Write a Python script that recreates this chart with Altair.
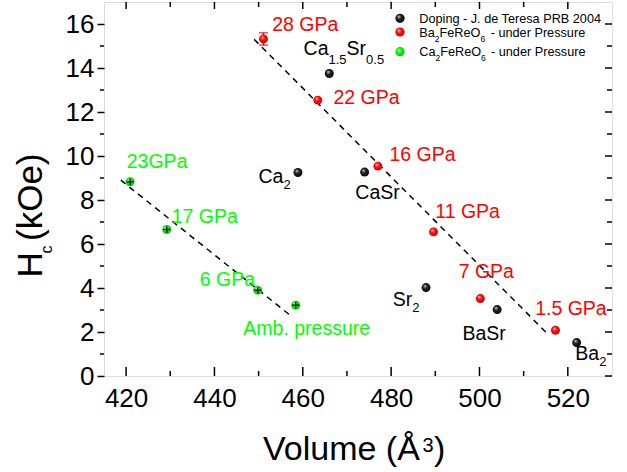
import altair as alt
import pandas as pd

FONT = "Liberation Sans, Arial, sans-serif"
RED = "#ff0000"
GREEN = "#00ff00"

# Doping series (J. de Teresa, PRB 2004)
doping_names = ["Ca2", "Ca1.5Sr0.5", "CaSr", "Sr2", "BaSr", "Ba2"]
doping_volume = [458.9, 466.0, 474.0, 487.9, 504.0, 522.0]
doping_hc = [9.25, 13.75, 9.27, 4.02, 3.02, 1.52]

# Ba2FeReO6 under pressure
ba_pressure = ["28 GPa", "22 GPa", "16 GPa", "11 GPa", "7 GPa", "1.5 GPa"]
ba_volume = [451.1, 463.4, 477.0, 489.6, 500.2, 517.2]
ba_hc = [15.32, 12.54, 9.54, 6.55, 3.52, 2.08]
ba_hc_err = [0.28, 0.0, 0.0, 0.0, 0.0, 0.0]

# Ca2FeReO6 under pressure
ca_pressure = ["23GPa", "17 GPa", "6 GPa", "Amb. pressure"]
ca_volume = [420.9, 429.2, 449.8, 458.4]
ca_hc = [8.83, 6.66, 3.90, 3.22]
ca_volume_err = [0.8, 0.8, 0.8, 0.8]
ca_hc_err = [0.15, 0.15, 0.15, 0.15]

# dashed linear trends
ba_fit_volume = [449.0, 515.0]
ba_fit_hc = [15.3, 2.0]
ca_fit_volume = [418.8, 457.4]
ca_fit_hc = [8.9, 2.72]

# axis ticks
x_major = [420, 440, 460, 480, 500, 520]
x_minor = [430, 450, 470, 490, 510]
y_major = [0, 2, 4, 6, 8, 10, 12, 14, 16]
y_minor = [1, 3, 5, 7, 9, 11, 13, 15]

W, H = 508, 374

doping = pd.DataFrame({"name": doping_names, "volume": doping_volume, "hc": doping_hc})
ba = pd.DataFrame({"label": ba_pressure, "volume": ba_volume, "hc": ba_hc, "err": ba_hc_err})
ba["lo"] = ba["hc"] - ba["err"]
ba["hi"] = ba["hc"] + ba["err"]
ca = pd.DataFrame({"label": ca_pressure, "volume": ca_volume, "hc": ca_hc,
                   "verr": ca_volume_err, "herr": ca_hc_err})
ca["vlo"] = ca["volume"] - ca["verr"]
ca["vhi"] = ca["volume"] + ca["verr"]
ca["hlo"] = ca["hc"] - ca["herr"]
ca["hhi"] = ca["hc"] + ca["herr"]
ba_fit = pd.DataFrame({"volume": ba_fit_volume, "hc": ba_fit_hc})
ca_fit = pd.DataFrame({"volume": ca_fit_volume, "hc": ca_fit_hc})

XS = alt.Scale(domain=[415, 530], nice=False, zero=False)
YS = alt.Scale(domain=[0, 17], nice=False, zero=False)
x_axis = alt.Axis(values=x_major, labelFontSize=26, labelFont=FONT, labelColor="black",
                  ticks=False, tickSize=0, domain=False, grid=False, title=None,
                  labelPadding=9, labelFlush=False, labelOverlap=False)
y_axis = alt.Axis(values=y_major, labelFontSize=26, labelFont=FONT, labelColor="black",
                  ticks=True, tickSize=7, tickWidth=1.5, tickColor="black",
                  domain=False, grid=False, title=None, labelPadding=3,
                  labelFlush=False, labelOverlap=False)


def X(field="volume"):
    return alt.X(f"{field}:Q", scale=XS, axis=x_axis)


def Y(field="hc"):
    return alt.Y(f"{field}:Q", scale=YS, axis=y_axis)


def sphere(light, mid, dark):
    return {"gradient": "radial", "x1": 0.35, "y1": 0.3, "r1": 0.0,
            "x2": 0.5, "y2": 0.5, "r2": 0.6,
            "stops": [{"offset": 0.0, "color": light},
                      {"offset": 0.4, "color": mid},
                      {"offset": 1.0, "color": dark}]}


BLACK_BALL = sphere("#d8d8d8", "#222222", "#000000")
RED_BALL = sphere("#ffd0d0", "#ff1010", "#c00000")
GREEN_BALL = sphere("#e0ffe0", "#10ff10", "#00b000")

one = pd.DataFrame({"k": [0]})
layers = []

# frame ticks: bottom and top point inward, right points inward, left minors outward
tick_x_major = pd.DataFrame({"volume": x_major})
tick_x_minor = pd.DataFrame({"volume": x_minor})
tick_y_major = pd.DataFrame({"hc": y_major})
tick_y_minor = pd.DataFrame({"hc": y_minor})
tick_style = dict(color="black", strokeWidth=1.5)
layers += [
    alt.Chart(tick_x_major).mark_rule(**tick_style).encode(x=X(), y=alt.value(H), y2=alt.value(H - 9)),
    alt.Chart(tick_x_minor).mark_rule(**tick_style).encode(x=X(), y=alt.value(H), y2=alt.value(H - 5)),
    alt.Chart(tick_x_major).mark_rule(**tick_style).encode(x=X(), y=alt.value(0), y2=alt.value(7)),
    alt.Chart(tick_x_minor).mark_rule(**tick_style).encode(x=X(), y=alt.value(0), y2=alt.value(5)),
    alt.Chart(tick_y_major).mark_rule(**tick_style).encode(y=Y(), x=alt.value(W), x2=alt.value(W - 7)),
    alt.Chart(tick_y_minor).mark_rule(**tick_style).encode(y=Y(), x=alt.value(W), x2=alt.value(W - 5)),
    alt.Chart(tick_y_minor).mark_rule(**tick_style).encode(y=Y(), x=alt.value(0), x2=alt.value(-4)),
]

# dashed trend lines
dash = dict(color="black", strokeWidth=1.5, strokeDash=[6, 5])
layers += [
    alt.Chart(ba_fit).mark_line(**dash).encode(x=X(), y=Y()),
    alt.Chart(ca_fit).mark_line(**dash).encode(x=X(), y=Y()),
]

# error bar on the 28 GPa point
ba_err = alt.Chart(ba).transform_filter("datum.err > 0")
layers += [
    ba_err.mark_rule(color=RED, strokeWidth=1.5).encode(x=X(), y=Y("lo"), y2="hi:Q"),
    ba_err.mark_tick(color=RED, orient="horizontal", size=9, thickness=1.5).encode(x=X(), y=Y("lo")),
    ba_err.mark_tick(color=RED, orient="horizontal", size=9, thickness=1.5).encode(x=X(), y=Y("hi")),
]

# the three data series as shaded spheres
ball = dict(size=80, opacity=1, strokeWidth=0)
layers += [
    alt.Chart(doping).mark_circle(color=BLACK_BALL, **ball).encode(x=X(), y=Y()),
    alt.Chart(ba).mark_circle(color=RED_BALL, **ball).encode(x=X(), y=Y()),
    alt.Chart(ca).mark_circle(color=GREEN_BALL, **ball).encode(x=X(), y=Y()),
]

# black error crosses on the Ca2FeReO6 points
layers += [
    alt.Chart(ca).mark_rule(color="black", strokeWidth=1.3).encode(x=X("vlo"), x2="vhi:Q", y=Y()),
    alt.Chart(ca).mark_rule(color="black", strokeWidth=1.3).encode(x=X(), y=Y("hlo"), y2="hhi:Q"),
]


def point_text(df, key, value, text, dx, dy, size, color, align="left"):
    return (alt.Chart(df).transform_filter(alt.datum[key] == value)
            .mark_text(text=text, dx=dx, dy=dy, fontSize=size, font=FONT, color=color,
                       align=align, baseline="middle")
            .encode(x=X(), y=Y()))


# pressure labels
ba_offsets = {"28 GPa": (8.7, -14), "22 GPa": (15.6, -1.7), "16 GPa": (11.6, -10.7),
              "11 GPa": (1.7, -20), "7 GPa": (-21.7, -26.6), "1.5 GPa": (-20.3, -21.7)}
for lab in ba_pressure:
    dx, dy = ba_offsets[lab]
    layers.append(point_text(ba, "label", lab, lab, dx, dy, 19.5, RED))

ca_offsets = {"23GPa": (-3.3, -20, "left"), "17 GPa": (5, -12.6, "left"),
              "6 GPa": (-2.7, -10, "right"), "Amb. pressure": (-52.4, 24, "left")}
for lab in ca_pressure:
    dx, dy, al = ca_offsets[lab]
    layers.append(point_text(ca, "label", lab, lab, dx, dy, 19.5, GREEN, al))

# composition labels, with subscripts drawn smaller and lower
doping_pieces = {
    "Ca2": [("Ca", -39.4, 4.4, False), ("2", -14.4, 12.7, True)],
    "Ca1.5Sr0.5": [("Ca", -25.7, -24.7, False), ("1.5", -0.8, -13.4, True),
                   ("Sr", 17.3, -24.7, False), ("0.5", 36.8, -13.4, True)],
    "CaSr": [("CaSr", -9.3, 21.3, False)],
    "Sr2": [("Sr", -33.3, 12, False), ("2", -13.8, 20, True)],
    "BaSr": [("BaSr", -34.7, 24.7, False)],
    "Ba2": [("Ba", -1.3, 11.7, False), ("2", 22.5, 19.4, True)],
}
for name in doping_names:
    for txt, dx, dy, sub in doping_pieces[name]:
        layers.append(point_text(doping, "name", name, txt, dx, dy, 13 if sub else 19.5, "black"))


def px_text(text, x, y, size, color="black", align="left", baseline="middle", angle=0):
    return (alt.Chart(one)
            .mark_text(text=text, fontSize=size, font=FONT, color=color, align=align,
                       baseline=baseline, angle=angle)
            .encode(x=alt.value(x), y=alt.value(y)))


# legend (top right, inside the frame)
LS, LSUB = 12.7, 8.5
layers += [
    alt.Chart(one).mark_circle(color=BLACK_BALL, size=85, opacity=1).encode(x=alt.value(296), y=alt.value(16.3)),
    alt.Chart(one).mark_circle(color=RED_BALL, size=85, opacity=1).encode(x=alt.value(296), y=alt.value(30.0)),
    alt.Chart(one).mark_circle(color=GREEN_BALL, size=85, opacity=1).encode(x=alt.value(296), y=alt.value(49.7)),
    px_text("Doping - J. de Teresa PRB 2004", 315.3, 17, LS),
    px_text("Ba", 315.3, 30.7, LS),
    px_text("2", 330.8, 36.5, LSUB),
    px_text("FeReO", 335.5, 30.7, LS),
    px_text("6", 376.4, 36.5, LSUB),
    px_text("- under Pressure", 386.7, 30.7, LS),
    px_text("Ca", 315.3, 49.7, LS),
    px_text("2", 331.5, 55.5, LSUB),
    px_text("FeReO", 336.2, 49.7, LS),
    px_text("6", 377.1, 55.5, LSUB),
    px_text("- under Pressure", 387.0, 49.7, LS),
]

# axis titles
layers += [
    px_text("Volume (Å", 159, 458, 34, baseline="alphabetic"),
    px_text("3", 318.5, 450, 20, baseline="alphabetic"),
    px_text(")", 330, 458, 34, baseline="alphabetic"),
    px_text("H", -62, 275.5, 35, baseline="alphabetic", angle=270),
    px_text("c", -52, 251.5, 16, baseline="alphabetic", angle=270),
    px_text("(kOe)", -62, 239, 35, baseline="alphabetic", angle=270),
]

chart = (
    alt.layer(*layers)
    .properties(width=W, height=H, autosize="none",
                padding={"left": 104, "top": 2, "right": 15, "bottom": 96})
    .configure_view(stroke="black", strokeWidth=1.5)
    .configure(background="white")
)

chart.save("out.html", embed_options={"renderer": "svg", "actions": False})
